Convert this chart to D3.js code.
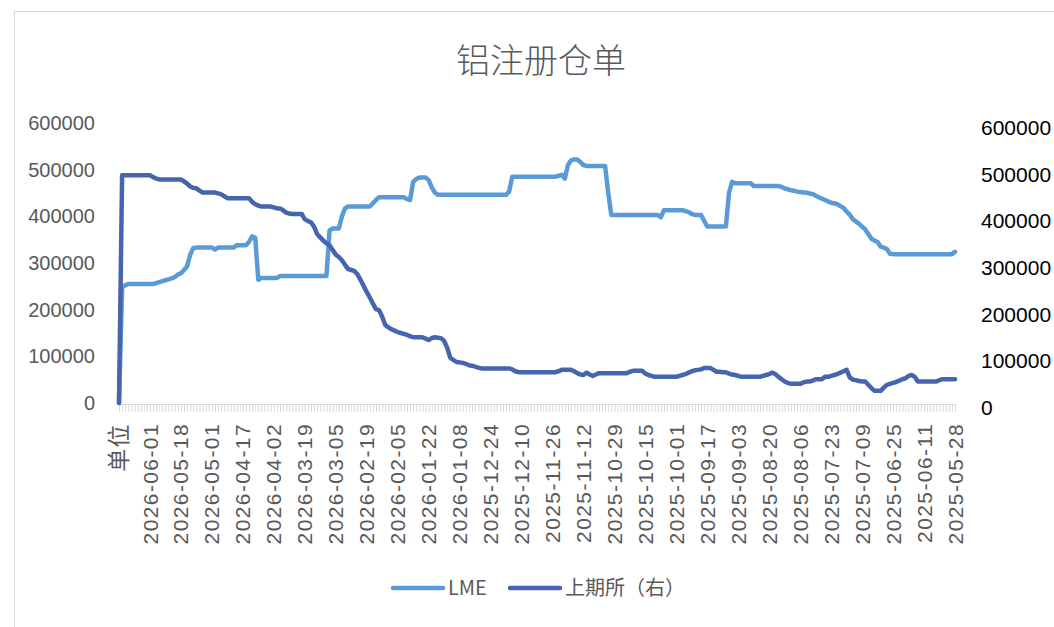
<!DOCTYPE html>
<html>
<head>
<meta charset="utf-8">
<script src="https://cdn.jsdelivr.net/npm/d3@7"></script>
<style>
  body { margin: 0; background: #fff; }
  svg { display: block; }
</style>
</head>
<body>
<svg id="chart" width="1054" height="627"></svg>
<script>
// --- Data ---
// x tick labels, one every 10 categories (category 0 is the "单位" row)
const tickLabels = ["单位",
  "2026-06-01", "2026-05-18", "2026-05-01", "2026-04-17", "2026-04-02", "2026-03-19",
  "2026-03-05", "2026-02-19", "2026-02-05", "2026-01-22", "2026-01-08", "2025-12-24",
  "2025-12-10", "2025-11-26", "2025-11-12", "2025-10-29", "2025-10-15", "2025-10-01",
  "2025-09-17", "2025-09-03", "2025-08-20", "2025-08-06", "2025-07-23", "2025-07-09",
  "2025-06-25", "2025-06-11", "2025-05-28"];
const labelStep = 10;

const seriesNames = ["LME", "上期所（右）"];

const lme = [
  0,249000,252000,255000,255000,255000,255000,255000,255000,255000,
  255000,255000,257000,259000,261000,263000,265000,267000,270000,275000,
  278000,285000,293000,318000,332000,333000,333000,333000,333000,333000,
  333000,329000,333000,333000,333000,333000,333000,333000,338000,338000,
  338000,338000,345000,357000,354000,264000,268000,268000,268000,268000,
  268000,268000,272000,272000,272000,272000,272000,272000,272000,272000,
  272000,272000,272000,272000,272000,272000,272000,272000,370000,374000,
  374000,374000,400000,417000,421000,421000,421000,421000,421000,421000,
  421000,421000,428000,435000,441000,441000,441000,441000,441000,441000,
  441000,441000,441000,437000,435000,474000,480000,483000,483000,483000,
  478000,462000,451000,446000,446000,446000,446000,446000,446000,446000,
  446000,446000,446000,446000,446000,446000,446000,446000,446000,446000,
  446000,446000,446000,446000,446000,446000,453000,485000,485000,485000,
  485000,485000,485000,485000,485000,485000,485000,485000,485000,485000,
  485000,485000,487000,489000,481000,510000,520000,522000,522000,516000,
  510000,508000,508000,508000,508000,508000,508000,508000,450000,403000,
  403000,403000,403000,403000,403000,403000,403000,403000,403000,403000,
  403000,403000,403000,403000,403000,398000,413000,413000,413000,413000,
  413000,413000,413000,411000,409000,405000,403000,403000,403000,390000,
  378000,378000,378000,378000,378000,378000,378000,450000,474000,471000,
  471000,471000,471000,471000,471000,465000,465000,465000,465000,465000,
  465000,465000,465000,465000,463000,460000,458000,456000,455000,453000,
  452000,451000,451000,449000,448000,444000,441000,438000,435000,432000,
  429000,428000,426000,422000,418000,410000,404000,394000,389000,384000,
  378000,372000,362000,352000,348000,345000,335000,333000,330000,320000,
  319000,319000,319000,319000,319000,319000,319000,319000,319000,319000,
  319000,319000,319000,319000,319000,319000,319000,319000,319000,319000,
  324000
];

const shfe = [
  0,488000,488000,488000,488000,488000,488000,488000,488000,488000,
  488000,484000,481000,479000,479000,479000,479000,479000,479000,479000,
  479000,475000,470000,464000,461000,460000,455000,451000,451000,451000,
  451000,451000,449000,447000,443000,439000,439000,439000,439000,439000,
  439000,439000,439000,431000,426000,423000,421000,421000,421000,421000,
  419000,417000,417000,413000,408000,406000,405000,405000,405000,405000,
  394000,390000,387000,378000,362000,355000,348000,342000,338000,328000,
  318000,313000,306000,296000,287000,285000,283000,276000,264000,251000,
  238000,226000,213000,201000,199000,185000,167000,162000,158000,155000,
  152000,150000,148000,146000,143000,141000,141000,141000,141000,138000,
  135000,139000,141000,140000,139000,133000,118000,97000,92000,88000,
  87000,86000,84000,81000,80000,78000,76000,74000,74000,74000,
  74000,74000,74000,74000,74000,74000,74000,72000,68000,66000,
  66000,66000,66000,66000,66000,66000,66000,66000,66000,66000,
  66000,66000,68000,71000,71000,71000,71000,68000,64000,61000,
  60000,65000,61000,58000,61000,64000,64000,64000,64000,64000,
  64000,64000,64000,64000,64000,67000,69000,69000,69000,69000,
  63000,60000,58000,56000,56000,56000,56000,56000,56000,56000,
  56000,58000,60000,62000,65000,68000,70000,71000,72000,75000,
  75000,75000,71000,67000,67000,66000,66000,63000,61000,60000,
  58000,56000,56000,56000,56000,56000,56000,56000,58000,60000,
  62000,65000,62000,56000,51000,46000,43000,41000,41000,41000,
  41000,44000,46000,46000,48000,51000,51000,51000,56000,56000,
  58000,60000,62000,65000,68000,71000,55000,50000,49000,47000,
  46000,46000,39000,32000,26000,26000,26000,33000,39000,41000,
  43000,45000,48000,51000,53000,58000,60000,56000,46000,46000,
  46000,46000,46000,46000,46000,49000,51000,51000,51000,51000,
  51000
];

const yTicks = [0, 100000, 200000, 300000, 400000, 500000, 600000];

// --- Setup ---
const svg = d3.select("#chart");
const colors = { lme: "#5b9bd5", shfe: "#4765ae" };
const gray = "#595959";
const cjk = "'Noto Sans CJK SC', 'Noto Sans', sans-serif";
const numFont = "'Liberation Sans', Arial, sans-serif";

// chart area border
svg.append("rect")
  .attr("x", 14.5).attr("y", 11.5)
  .attr("width", 1100).attr("height", 700)
  .attr("fill", "none").attr("stroke", "#d9d9d9").attr("stroke-width", 1);

// title
svg.append("text")
  .attr("x", 541).attr("y", 73)
  .attr("text-anchor", "middle")
  .style("font-family", cjk).style("font-size", "34px").style("font-weight", 300)
  .attr("fill", gray)
  .text("铝注册仓单");

// --- Scales ---
const n = lme.length;
const x = d3.scaleLinear().domain([0, n - 1]).range([119, 955]);
const yL = d3.scaleLinear().domain([0, 600000]).range([403, 123]);
const yR = d3.scaleLinear().domain([0, 600000]).range([403, 123]);

// --- Axes ---
const leftAxis = svg.append("g")
  .attr("transform", "translate(97,0)")
  .call(d3.axisLeft(yL).tickValues(yTicks).tickSize(0).tickPadding(2).tickFormat(d3.format("d")));
leftAxis.select(".domain").remove();
leftAxis.selectAll("text")
  .style("font-family", numFont).style("font-size", "20px").attr("fill", gray);

const rightAxis = svg.append("g")
  .attr("transform", "translate(979,0)")
  .call(d3.axisRight(yR).tickValues(yTicks).tickSize(0).tickPadding(2).tickFormat(d3.format("d")));
rightAxis.select(".domain").remove();
rightAxis.selectAll("text")
  .attr("dy", "0.55em")
  .style("font-family", numFont).style("font-size", "21px").attr("fill", "#000");

// category axis: line + one tick per category
const xAxis = svg.append("g")
  .attr("transform", "translate(0,404)")
  .call(d3.axisBottom(x).tickValues(d3.range(n)).tickSize(8).tickFormat(""));
xAxis.select(".domain").attr("stroke", "#d9d9d9").attr("d", `M${x(0) - 2},0.5H${x(n - 1) + 1}`);
xAxis.selectAll(".tick line").attr("stroke", "#d9d9d9");

// rotated category labels
svg.append("g")
  .selectAll("text")
  .data(tickLabels)
  .join("text")
  .attr("transform", (d, i) => `translate(${x(i * labelStep)},423) rotate(-90)`)
  .attr("text-anchor", "end")
  .attr("dy", "0.36em")
  .style("font-family", (d, i) => i === 0 ? cjk : numFont)
  .style("font-size", (d, i) => i === 0 ? "23px" : "21px")
  .style("letter-spacing", "1.4px")
  .attr("fill", gray)
  .text(d => d);

// --- Lines ---
const lineL = d3.line().x((d, i) => x(i)).y(d => yL(d));
const lineR = d3.line().x((d, i) => x(i)).y(d => yR(d));

svg.append("path")
  .datum(lme)
  .attr("d", lineL)
  .attr("fill", "none").attr("stroke", colors.lme)
  .attr("stroke-width", 4.5).attr("stroke-linejoin", "round").attr("stroke-linecap", "round");

svg.append("path")
  .datum(shfe)
  .attr("d", lineR)
  .attr("fill", "none").attr("stroke", colors.shfe)
  .attr("stroke-width", 4.5).attr("stroke-linejoin", "round").attr("stroke-linecap", "round");

// --- Legend ---
const legendItems = [
  { name: seriesNames[0], color: colors.lme, x0: 393 },
  { name: seriesNames[1], color: colors.shfe, x0: 510 }
];
const legend = svg.append("g").selectAll("g").data(legendItems).join("g")
  .attr("transform", d => `translate(${d.x0},588)`);
legend.append("line")
  .attr("x1", 0).attr("x2", 50).attr("y1", 0).attr("y2", 0)
  .attr("stroke", d => d.color).attr("stroke-width", 4.5).attr("stroke-linecap", "round");
legend.append("text")
  .attr("x", 55).attr("dy", "0.35em")
  .style("font-family", cjk).style("font-size", "20px")
  .attr("fill", gray)
  .text(d => d.name);
</script>
</body>
</html>
